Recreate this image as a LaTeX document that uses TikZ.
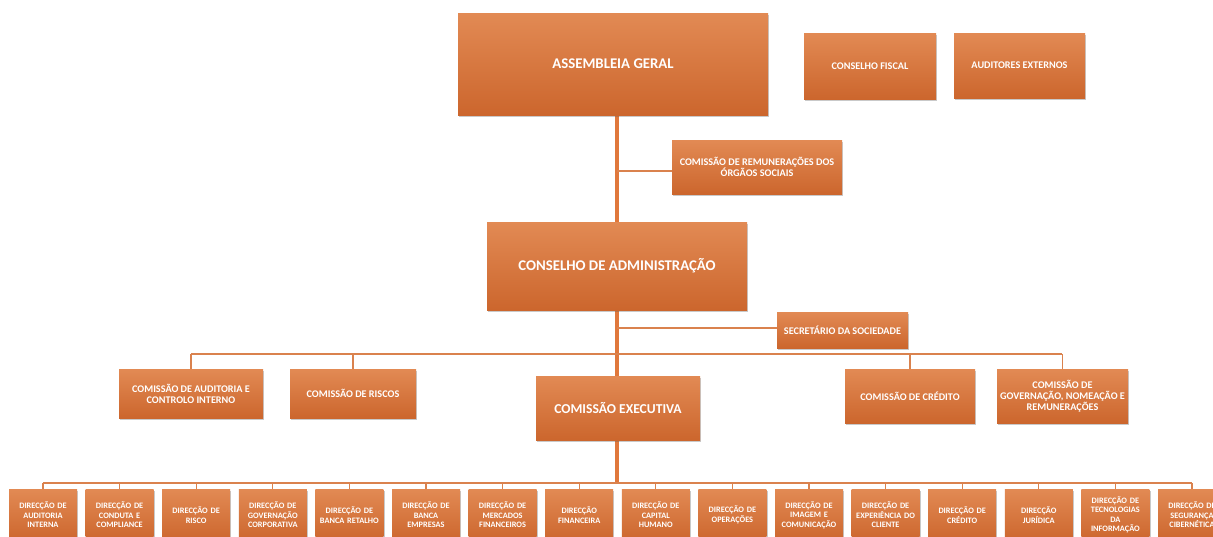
\documentclass[tikz,border=0pt]{standalone}
\usepackage{fontspec}
\setmainfont{Carlito}
\usetikzlibrary{shadows}
\definecolor{boxtop}{RGB}{226,138,84}
\definecolor{boxbot}{RGB}{204,102,45}
\definecolor{linecol}{RGB}{224,120,60}
\definecolor{thincol}{RGB}{218,130,78}
\tikzset{
  orgbox/.style={rectangle, top color=boxtop, bottom color=boxbot, draw=none,
    text=white, align=center, inner sep=1pt, font=\bfseries,
    drop shadow={shadow xshift=1.2pt, shadow yshift=-1.8pt, opacity=0.35, fill=black!60}},
  bigtxt/.style={font=\fontsize{14.8}{16}\selectfont\bfseries},
  midtxt/.style={font=\fontsize{10.2}{11}\selectfont\bfseries},
  dirbox/.style={orgbox, minimum width=66pt, minimum height=52pt, text width=66pt,
    font=\fontsize{8.3}{9.4}\selectfont\bfseries},
  mainline/.style={draw=linecol, line width=4.5pt},
  thinline/.style={draw=thincol, line width=1.3pt},
}
\begin{document}
\begin{tikzpicture}[x=1pt,y=-1pt]
\useasboundingbox (0,0) rectangle (1213,536);
\clip (0,0) rectangle (1213,536);
\fill[white] (0,0) rectangle (1213,536);

% coordinates of the spine and buses
\coordinate (spineBot) at (617,483);
\coordinate (busL) at (43,483);
\coordinate (busR) at (1192,483);
\coordinate (cbusL) at (191,354);
\coordinate (cbusR) at (1062,354);

% spine and buses (drawn first, boxes cover them)
\draw[mainline] (617,115) -- (spineBot);
\draw[thinline] (busL) -- (busR);
\draw[thinline] (cbusL) -- (cbusR);
\draw[thinline] (617,171) -- (672,171);
\draw[thinline] (617,328) -- (777,328);

% top boxes
\node[orgbox, bigtxt, minimum width=310pt, minimum height=102pt] (ag) at (613,64) {ASSEMBLEIA GERAL};
\node[orgbox, midtxt, minimum width=132pt, minimum height=66pt] (cf) at (870,66) {CONSELHO FISCAL};
\node[orgbox, midtxt, minimum width=131pt, minimum height=65pt] (ae) at (1019.5,65.5) {AUDITORES EXTERNOS};
\node[orgbox, midtxt, minimum width=170pt, minimum height=54pt] (crs) at (757,167) {COMISSÃO DE REMUNERAÇÕES DOS\\ ÓRGÃOS SOCIAIS};
\node[orgbox, bigtxt, minimum width=260pt, minimum height=88pt] (ca) at (617,266) {CONSELHO DE ADMINISTRAÇÃO};
\node[orgbox, midtxt, minimum width=131pt, minimum height=36pt] (sec) at (842.5,330) {SECRETÁRIO DA SOCIEDADE};

% commissions
\node[orgbox, midtxt, minimum width=144pt, minimum height=49pt] (caci) at (191,393.5) {COMISSÃO DE AUDITORIA E\\ CONTROLO INTERNO};
\node[orgbox, midtxt, minimum width=126pt, minimum height=49pt] (cr) at (353,393.5) {COMISSÃO DE RISCOS};
\node[orgbox, font=\fontsize{13.6}{15}\selectfont\bfseries, minimum width=164pt, minimum height=64pt] (ce) at (618,408) {COMISSÃO EXECUTIVA};
\node[orgbox, midtxt, minimum width=130pt, minimum height=54pt] (ccr) at (910,396) {COMISSÃO DE CRÉDITO};
\node[orgbox, midtxt, minimum width=131pt, minimum height=54pt] (cgn) at (1062.5,396) {COMISSÃO DE\\ GOVERNAÇÃO, NOMEAÇÃO E\\ REMUNERAÇÕES};

% commission connectors
\draw[thinline] (caci.north |- cbusL) -- (caci.north);
\draw[thinline] (cr.north |- cbusL) -- (cr.north);
\draw[thinline] (ccr.north |- cbusL) -- (ccr.north);
\draw[thinline] (cgn.north |- cbusL) -- (cgn.north);

% directorates
\foreach \i/\t in {
  0/{DIRECÇÃO DE\\AUDITORIA\\INTERNA},
  1/{DIRECÇÃO DE\\CONDUTA E\\COMPLIANCE},
  2/{DIRECÇÃO DE\\RISCO},
  3/{DIRECÇÃO DE\\GOVERNAÇÃO\\CORPORATIVA},
  4/{DIRECÇÃO DE\\BANCA RETALHO},
  5/{DIRECÇÃO DE\\BANCA\\EMPRESAS},
  6/{DIRECÇÃO DE\\MERCADOS\\FINANCEIROS},
  7/{DIRECÇÃO\\FINANCEIRA},
  8/{DIRECÇÃO DE\\CAPITAL\\HUMANO},
  9/{DIRECÇÃO DE\\OPERAÇÕES},
  10/{DIRECÇÃO DE\\IMAGEM E\\COMUNICAÇÃO},
  11/{DIRECÇÃO DE\\EXPERIÊNCIA DO\\CLIENTE},
  12/{DIRECÇÃO DE\\CRÉDITO},
  13/{DIRECÇÃO\\JURÍDICA},
  14/{DIRECÇÃO DE\\TECNOLOGIAS\\DA\\INFORMAÇÃO},
  15/{DIRECÇÃO DE\\SEGURANÇA\\CIBERNÉTICA}}{
  \node[dirbox] (d\i) at ({43+76.6*\i},515) {\t};
  \draw[thinline] (d\i.north |- busL) -- (d\i.north);
}
\end{tikzpicture}
\end{document}
